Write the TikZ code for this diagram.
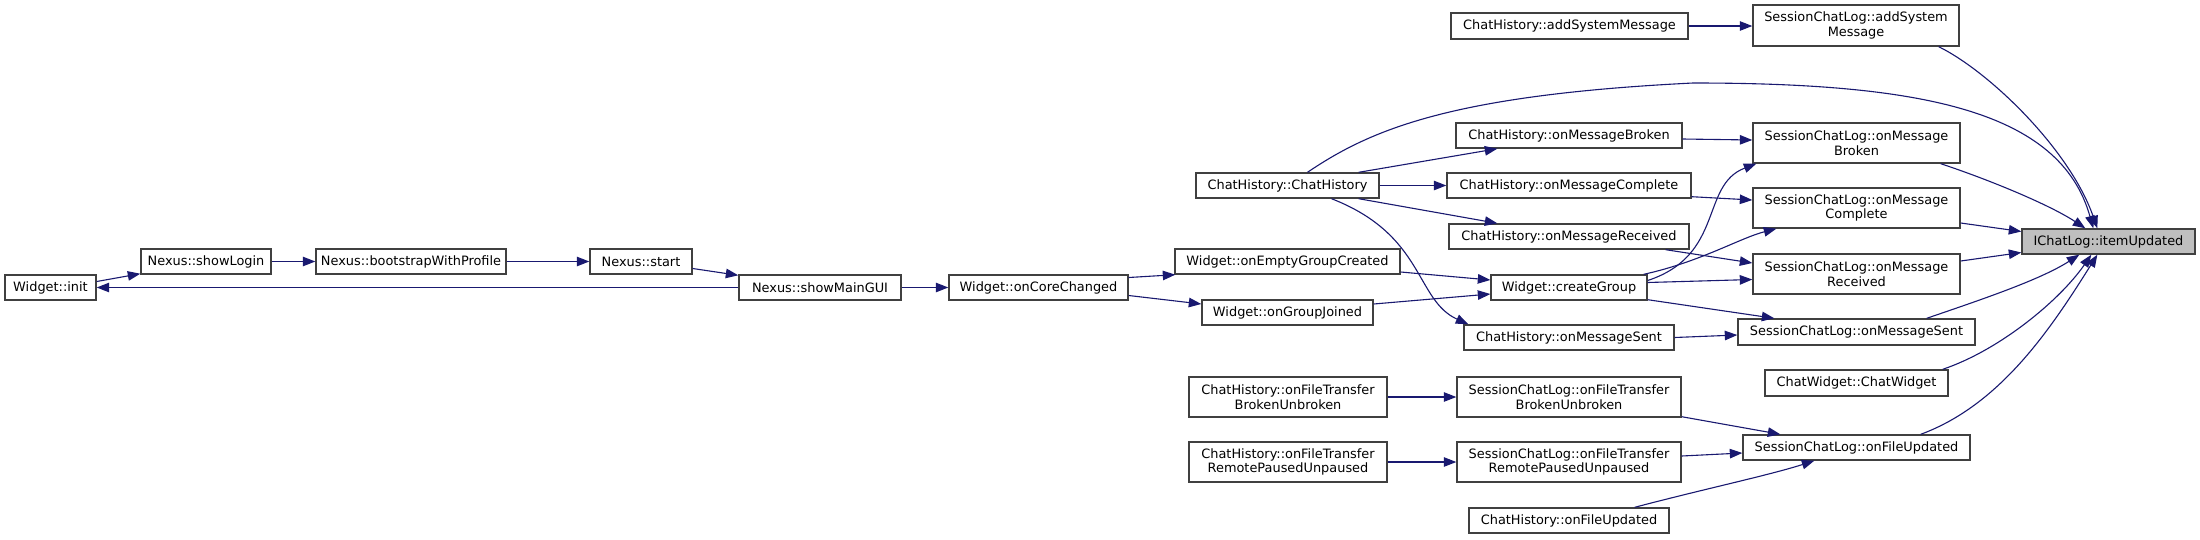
\documentclass[tikz,border=0pt]{standalone}
\usepackage{fontspec}
\setmainfont{DejaVu Sans}
\usetikzlibrary{arrows.meta,calc}
\definecolor{edgec}{HTML}{191970}
\definecolor{boxc}{HTML}{404040}
\definecolor{rootc}{HTML}{BFBFBF}
\newcommand\nb[7][]{\node[box,#1, minimum width={(#5-#3)*1pt}, minimum height={(#6-#4)*1pt}] (#2) at ({(#3+#5)/2},{(#4+#6)/2}) {#7};}
\begin{document}
\begin{tikzpicture}[x=1pt,y=-1pt,
 box/.style={draw=boxc, line width=1.4pt, fill=white, inner sep=0pt, align=center, font=\fontsize{12.9}{14.5}\selectfont},
 edge/.style={draw=edgec, line width=1.1pt, -{Triangle[length=12.5pt,width=9.5pt]}}]
\useasboundingbox[fill=white] (0,0) rectangle (2200,539);
\nb{init}{5}{275}{96}{300}{Widget::init}
\nb{login}{141}{249}{271}{274}{Nexus::showLogin}
\nb{boot}{316}{249}{506}{274}{Nexus::bootstrapWithProfile}
\nb{start}{590}{249}{692}{274}{Nexus::start}
\nb{main}{739}{275}{901}{300}{Nexus::showMainGUI}
\nb{ocg}{949}{275}{1128}{300}{Widget::onCoreChanged}
\nb{oegc}{1175}{249}{1400}{274}{Widget::onEmptyGroupCreated}
\nb{ogj}{1202}{300}{1373}{325}{Widget::onGroupJoined}
\nb{chc}{1196}{173}{1379}{198}{ChatHistory::ChatHistory}
\nb{chftb}{1189}{377}{1387}{417}{ChatHistory::onFileTransfer\\BrokenUnbroken}
\nb{chftr}{1189}{442}{1387}{482}{ChatHistory::onFileTransfer\\RemotePausedUnpaused}
\nb{cg}{1491}{275}{1647}{300}{Widget::createGroup}
\nb{chasm}{1451}{13}{1688}{39}{ChatHistory::addSystemMessage}
\nb{chb}{1456}{123}{1682}{148}{ChatHistory::onMessageBroken}
\nb{chcomp}{1447}{173}{1691}{198}{ChatHistory::onMessageComplete}
\nb{chrec}{1449}{224}{1689}{249}{ChatHistory::onMessageReceived}
\nb{chsent}{1464}{325}{1674}{350}{ChatHistory::onMessageSent}
\nb{sftb}{1457}{377}{1681}{417}{SessionChatLog::onFileTransfer\\BrokenUnbroken}
\nb{sftr}{1457}{442}{1681}{482}{SessionChatLog::onFileTransfer\\RemotePausedUnpaused}
\nb{chfu}{1469}{508}{1669}{533}{ChatHistory::onFileUpdated}
\nb{sasm}{1753}{5}{1959}{46}{SessionChatLog::addSystem\\Message}
\nb{sb}{1753}{123}{1960}{163}{SessionChatLog::onMessage\\Broken}
\nb{sc}{1753}{188}{1960}{228}{SessionChatLog::onMessage\\Complete}
\nb{sr}{1753}{254}{1960}{294}{SessionChatLog::onMessage\\Received}
\nb{ss}{1738}{319}{1975}{345}{SessionChatLog::onMessageSent}
\nb{cw}{1765}{370}{1948}{396}{ChatWidget::ChatWidget}
\nb{sfu}{1743}{435}{1970}{460}{SessionChatLog::onFileUpdated}
\nb[fill=rootc]{iu}{2022}{229}{2195}{254}{IChatLog::itemUpdated}
% edges
\draw[edge] ($(init.east)+(0,-6)$) -- ($(login.south west)+(0,-1)$);
\draw[edge] (login.east) -- (boot.west);
\draw[edge] (boot.east) -- (start.west);
\draw[edge] ($(start.east)+(0,7)$) -- ($(main.north west)+(0,1)$);
\draw[edge] (main.west) -- (init.east);
\draw[edge] (main.east) -- (ocg.west);
\draw[edge] ($(ocg.east)+(0,-10)$) -- ($(oegc.south west)+(1,0)$);
\draw[edge] ($(ocg.east)+(0,8)$) -- ($(ogj.west)+(0,-8.5)$);
\draw[edge] ($(oegc.east)+(0,10.5)$) -- ($(cg.west)+(0,-7.5)$);
\draw[edge] ($(ogj.east)+(0,-8.5)$) -- ($(cg.west)+(0,6.5)$);
\draw[edge] ($(chc.north east)+(-21,0)$) -- ($(chb.south west)+(42,0)$);
\draw[edge] (chc.east) -- (chcomp.west);
\draw[edge] ($(chc.south east)+(-21,0)$) -- ($(chrec.north west)+(49,0)$);
\draw[edge] ($(chc.south)+(44,0)$) .. controls (1425,235) and (1415,300) .. ($(chsent.north west)+(5,0)$);
\draw[edge] ($(chc.north)+(20,0)$) .. controls (1370,130) and (1450,95) .. (1693,83) .. controls (1920,83) and (2060,110) .. ($(iu.north west)+(72,0)$);
\draw[edge] (chasm.east) -- (chasm.east -| sasm.west);
\draw[edge] ($(sasm.south east)+(-21,0)$) .. controls (1990,72) and (2070,150) .. ($(iu.north west)+(76,0)$);
\draw[edge] ($(chb.east)+(0,3.5)$) -- ($(sb.west)+(0,-3)$);
\draw[edge] ($(chcomp.south east)+(0,-2)$) -- ($(sc.west)+(0,-8)$);
\draw[edge] ($(chrec.south east)+(-24,0)$) -- ($(sr.west)+(0,-11)$);
\draw[edge] ($(cg.east)+(0,-7)$) .. controls (1725,255) and (1700,185) .. ($(sb.south west)+(4,0)$);
\draw[edge] ($(cg.north east)+(-4,0)$) .. controls (1700,262) and (1740,238) .. ($(sc.south west)+(24,0)$);
\draw[edge] ($(cg.east)+(0,-5)$) -- ($(sr.west)+(0,5.5)$);
\draw[edge] ($(cg.south east)+(0,-1)$) -- ($(ss.north west)+(37,0)$);
\draw[edge] (chsent.east) -- ($(ss.west)+(0,3)$);
\draw[edge] ($(sb.south east)+(-20,0)$) .. controls (1990,180) and (2050,205) .. ($(iu.north west)+(64,0)$);
\draw[edge] ($(sc.east)+(0,15)$) -- ($(iu.west)+(0,-10)$);
\draw[edge] ($(sr.east)+(0,-13)$) -- ($(iu.west)+(0,11)$);
\draw[edge] ($(ss.north east)+(-49,0)$) .. controls (1980,300) and (2040,280) .. ($(iu.south west)+(58,0)$);
\draw[edge] ($(cw.north east)+(-6,0)$) .. controls (2000,350) and (2060,300) .. ($(iu.south west)+(70,0)$);
\draw[edge] ($(sfu.north east)+(-50,0)$) .. controls (2000,405) and (2050,330) .. ($(iu.south west)+(76,0)$);
\draw[edge] ($(sftb.south east)+(0,-1)$) -- ($(sfu.north west)+(38,0)$);
\draw[edge] ($(sftr.east)+(0,-6)$) -- ($(sfu.west)+(0,5.5)$);
\draw[edge] ($(chfu.north east)+(-35,0)$) .. controls (1700,490) and (1770,475) .. ($(sfu.south west)+(72,0)$);
\draw[edge] (chftb.east) -- (sftb.west);
\draw[edge] (chftr.east) -- (sftr.west);
\end{tikzpicture}
\end{document}
